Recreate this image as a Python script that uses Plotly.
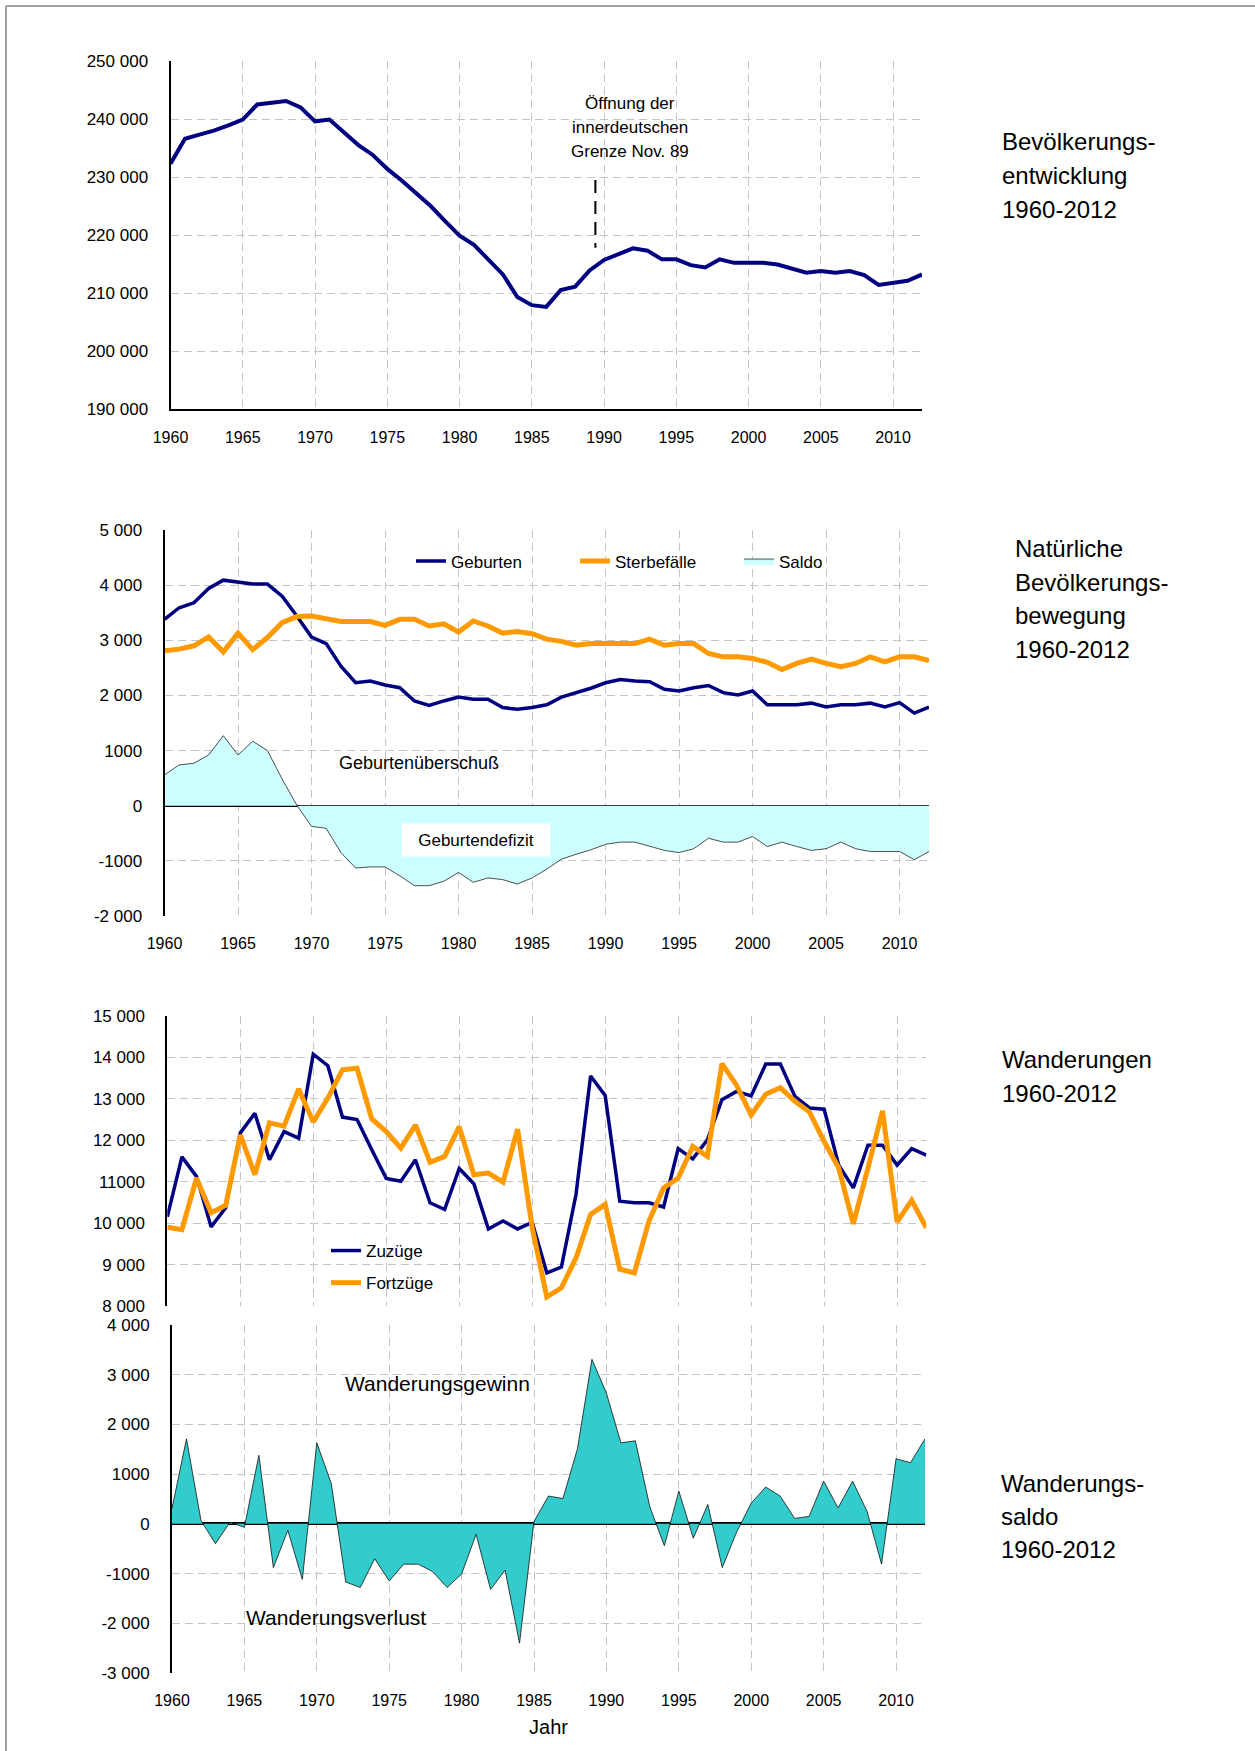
import plotly.graph_objects as go

W, H = 1255, 1751
FONT = "Liberation Sans, Arial, Helvetica, sans-serif"

# ---------------- data ----------------
years = list(range(1960, 2013))

bevoelkerung = [232300, 236600, 237300, 238000, 238900, 239900, 242500, 242800, 243100, 242000,
                239600, 239900, 237700, 235500, 233800, 231400, 229400, 227300, 225000, 222400,
                219900, 218300, 215800, 213200, 209300, 207900, 207600, 210500, 211100, 213900,
                215700, 216700, 217700, 217300, 215800, 215800, 214800, 214400, 215800, 215200,
                215200, 215200, 214900, 214200, 213500, 213800, 213500, 213800, 213100, 211400,
                211700, 212100, 213200]

geburten = [3380, 3590, 3680, 3940, 4090, 4060, 4020, 4020, 3800, 3440,
            3060, 2940, 2530, 2230, 2260, 2190, 2140, 1900, 1820, 1900,
            1970, 1930, 1930, 1780, 1750, 1780, 1830, 1970, 2050, 2130,
            2230, 2290, 2260, 2250, 2110, 2080, 2140, 2180, 2050, 2010,
            2080, 1830, 1830, 1830, 1860, 1790, 1830, 1830, 1860, 1790,
            1870, 1680, 1790]

sterbefaelle = [2810, 2840, 2900, 3060, 2790, 3130, 2830, 3050, 3320, 3430,
                3440, 3380, 3340, 3340, 3340, 3270, 3380, 3380, 3260, 3300,
                3150, 3350, 3260, 3130, 3160, 3120, 3020, 2980, 2910, 2940,
                2940, 2940, 2940, 3020, 2910, 2940, 2940, 2760, 2700, 2700,
                2670, 2600, 2470, 2580, 2660, 2580, 2520, 2580, 2700, 2610,
                2700, 2700, 2630]

saldo_natuerlich = [560, 740, 770, 920, 1270, 920, 1170, 1000, 485, 10,
                    -375, -410, -850, -1130, -1110, -1110, -1270, -1450, -1450, -1370,
                    -1210, -1390, -1310, -1340, -1420, -1310, -1150, -970, -880, -800,
                    -700, -660, -660, -740, -810, -850, -780, -590, -660, -660,
                    -560, -740, -660, -740, -810, -780, -660, -780, -830, -830,
                    -830, -980, -830]

zuzuege = [10150, 11600, 11130, 9910, 10370, 12180, 12650, 11530, 12210, 12050,
           14080, 13800, 12560, 12500, 11780, 11080, 11010, 11530, 10490, 10330,
           11320, 10950, 9860, 10050, 9860, 10020, 8800, 8940, 10690, 13550,
           13080, 10530, 10490, 10490, 10390, 11800, 11550, 12010, 12980, 13180,
           13070, 13840, 13840, 13060, 12780, 12750, 11400, 10850, 11880, 11880,
           11400, 11800, 11640]

fortzuege = [9900, 9840, 11090, 10250, 10430, 12130, 11170, 12420, 12340, 13240,
             12440, 13020, 13700, 13740, 12520, 12210, 11810, 12370, 11470, 11610,
             12330, 11170, 11210, 10990, 12270, 9890, 8220, 8440, 9160, 10210,
             10450, 8890, 8800, 10050, 10850, 11090, 11850, 11610, 13850, 13330,
             12610, 13110, 13270, 12940, 12680, 11970, 11330, 9980, 11330, 12710,
             10030, 10550, 9890]

saldo_wanderung = [310, 1710, 70, -400, 30, -70, 1380, -880, -130, -1120,
                   1630, 810, -1170, -1280, -700, -1150, -810, -810, -960, -1280,
                   -1010, -210, -1320, -930, -2400, 50, 560, 510, 1510, 3310,
                   2630, 1630, 1670, 340, -440, 660, -290, 390, -880, -160,
                   420, 740, 560, 110, 150, 860, 320, 860, 250, -810,
                   1310, 1230, 1710]

grenze_x = [1989.4, 1989.4]
grenze_y = [229500, 217800]

x_tickvals = [1960, 1965, 1970, 1975, 1980, 1985, 1990, 1995, 2000, 2005, 2010]
x_ticktext = ["1960", "1965", "1970", "1975", "1980", "1985", "1990", "1995", "2000", "2005", "2010"]

y1_tickvals = [190000, 200000, 210000, 220000, 230000, 240000, 250000]
y1_ticktext = ["190 000", "200 000", "210 000", "220 000", "230 000", "240 000", "250 000"]
y2_tickvals = [-2000, -1000, 0, 1000, 2000, 3000, 4000, 5000]
y2_ticktext = ["-2 000", "-1000", "0", "1000", "2 000", "3 000", "4 000", "5 000"]
y3_tickvals = [8000, 9000, 10000, 11000, 12000, 13000, 14000, 15000]
y3_ticktext = ["8 000", "9 000", "10 000", "11000", "12 000", "13 000", "14 000", "15 000"]
y4_tickvals = [-3000, -2000, -1000, 0, 1000, 2000, 3000, 4000]
y4_ticktext = ["-3 000", "-2 000", "-1000", "0", "1000", "2 000", "3 000", "4 000"]

titles = [
    ["Bevölkerungs-", "entwicklung", "1960-2012"],
    ["Natürliche", "Bevölkerungs-", "bewegung", "1960-2012"],
    ["Wanderungen", "1960-2012"],
    ["Wanderungs-", "saldo", "1960-2012"],
]

NAVY = "#000080"
ORANGE = "#FF9900"
GRID = "#C4C4C4"


def px_x(p):
    return p / W


def px_y(p):
    return 1 - p / H


fig = go.Figure()

# Panel 1
fig.add_trace(go.Scatter(x=years, y=bevoelkerung, mode="lines", line=dict(color=NAVY, width=4),
                         showlegend=False, xaxis="x", yaxis="y"))
fig.add_trace(go.Scatter(x=grenze_x, y=grenze_y, mode="lines",
                         line=dict(color="black", width=2, dash="13px,8px"),
                         showlegend=False, xaxis="x", yaxis="y"))

# Panel 2
fig.add_trace(go.Scatter(x=years, y=saldo_natuerlich, mode="lines", name="Saldo",
                         fill="tozeroy", fillcolor="#CCFFFF",
                         line=dict(color="#222222", width=0.8),
                         legend="legend", legendrank=3, xaxis="x2", yaxis="y2"))
fig.add_trace(go.Scatter(x=years, y=geburten, mode="lines", name="Geburten",
                         line=dict(color=NAVY, width=3.5),
                         legend="legend", legendrank=1, xaxis="x2", yaxis="y2"))
fig.add_trace(go.Scatter(x=years, y=sterbefaelle, mode="lines", name="Sterbefälle",
                         line=dict(color=ORANGE, width=5),
                         legend="legend", legendrank=2, xaxis="x2", yaxis="y2"))

# Panel 3
fig.add_trace(go.Scatter(x=years, y=zuzuege, mode="lines", name="Zuzüge",
                         line=dict(color=NAVY, width=3.5), legendgroup="z",
                         legend="legend2", legendrank=1, xaxis="x3", yaxis="y3"))
fig.add_trace(go.Scatter(x=years, y=fortzuege, mode="lines", name="Fortzüge",
                         line=dict(color=ORANGE, width=5), legendgroup="f",
                         legend="legend2", legendrank=2, xaxis="x3", yaxis="y3"))

# Panel 4
fig.add_trace(go.Scatter(x=years, y=saldo_wanderung, mode="lines", fill="tozeroy",
                         fillcolor="#33CCCC", line=dict(color="#111111", width=0.8),
                         showlegend=False, xaxis="x4", yaxis="y4"))


def xax(domain, showlabels=True, showline=False):
    return dict(domain=[px_x(domain[0]), px_x(domain[1])], range=[1960, 2012],
                tickvals=x_tickvals, ticktext=x_ticktext, showticklabels=showlabels,
                showgrid=True, gridcolor=GRID, gridwidth=1, griddash="8px,5px",
                zeroline=False, showline=showline, linecolor="black", linewidth=2,
                ticks="outside", ticklen=13, tickcolor="rgba(0,0,0,0)", automargin=False,
                tickfont=dict(size=16, family=FONT, color="black"), fixedrange=True)


def yax(domain, rng, tv, tt, zeroline=False, zw=1.5):
    return dict(domain=[px_y(domain[1]), px_y(domain[0])], range=rng,
                tickvals=tv, ticktext=tt,
                showgrid=True, gridcolor=GRID, gridwidth=1, griddash="8px,5px",
                zeroline=zeroline, zerolinecolor="black", zerolinewidth=zw,
                showline=True, linecolor="black", linewidth=2,
                ticks="outside", ticklen=17, tickcolor="rgba(0,0,0,0)", automargin=False,
                tickfont=dict(size=17, family=FONT, color="black"), fixedrange=True)


annotations = []

title_pos = [(1000, [141.5, 175.5, 209]),
             (1012.5, [548, 582.5, 615.5, 649.5]),
             (1000, [1059.5, 1093]),
             (999, [1483, 1516, 1549])]
for (xl, ys), lines in zip(title_pos, titles):
    for yy, t in zip(ys, lines):
        annotations.append(dict(xref="paper", yref="paper", x=px_x(xl), y=px_y(yy),
                                xanchor="left", yanchor="middle", text=t, showarrow=False,
                                font=dict(size=24, family=FONT, color="black")))

for yy, t in zip([103.5, 127.5, 151], ["Öffnung der", "innerdeutschen", "Grenze Nov. 89"]):
    annotations.append(dict(xref="paper", yref="paper", x=px_x(630), y=px_y(yy),
                            xanchor="center", yanchor="middle", text=t, showarrow=False,
                            font=dict(size=17, family=FONT, color="black")))

annotations.append(dict(xref="x2", yref="y2", x=1977.3, y=770, text="Geburtenüberschuß",
                        showarrow=False, xanchor="center", yanchor="middle",
                        font=dict(size=18, family=FONT, color="black")))
annotations.append(dict(xref="x2", yref="y2", x=1981.2, y=-620, text="Geburtendefizit",
                        showarrow=False, xanchor="center", yanchor="middle",
                        bgcolor="white", width=146, height=30,
                        font=dict(size=17, family=FONT, color="black")))

annotations.append(dict(xref="x4", yref="y4", x=1978.3, y=2820, text="Wanderungsgewinn",
                        showarrow=False, xanchor="center", yanchor="middle",
                        font=dict(size=21, family=FONT, color="black")))
annotations.append(dict(xref="x4", yref="y4", x=1971.3, y=-1890, text="Wanderungsverlust",
                        showarrow=False, xanchor="center", yanchor="middle",
                        font=dict(size=21, family=FONT, color="black")))

shapes = [
    dict(type="line", xref="paper", yref="paper", x0=px_x(6), x1=1, y0=px_y(6), y1=px_y(6),
         line=dict(color="#A0A0A0", width=2)),
    dict(type="line", xref="paper", yref="paper", x0=px_x(6), x1=px_x(6), y0=px_y(6), y1=0,
         line=dict(color="#A0A0A0", width=2)),
]

x4 = xax((172, 925))
x4["title"] = dict(text="Jahr", font=dict(size=20, family=FONT, color="black"), standoff=11)

fig.update_layout(
    width=W, height=H, autosize=False,
    margin=dict(l=0, r=0, t=0, b=0, pad=0, autoexpand=False),
    paper_bgcolor="white", plot_bgcolor="white",
    font=dict(family=FONT, color="black"),
    xaxis=dict(xax((170.5, 922), showline=True), anchor="y"),
    yaxis=dict(yax((61, 409), [190000, 250000], y1_tickvals, y1_ticktext), anchor="x"),
    xaxis2=dict(xax((164.5, 929)), anchor="y2"),
    yaxis2=dict(yax((530, 916), [-2000, 5000], y2_tickvals, y2_ticktext, zeroline=True, zw=1.5), anchor="x2"),
    xaxis3=dict(xax((167.3, 926.3), showlabels=False), anchor="y3"),
    yaxis3=dict(yax((1016, 1306), [8000, 15000], y3_tickvals, y3_ticktext), anchor="x3"),
    xaxis4=dict(x4, anchor="y4"),
    yaxis4=dict(yax((1325, 1673), [-3000, 4000], y4_tickvals, y4_ticktext, zeroline=True, zw=2.5), anchor="x4"),
    legend=dict(orientation="h", x=px_x(411), y=px_y(543.5), xanchor="left", yanchor="top",
                bgcolor="rgba(0,0,0,0)", font=dict(size=17, family=FONT, color="black"),
                entrywidth=119, entrywidthmode="pixels", traceorder="normal"),
    legend2=dict(orientation="v", x=px_x(326), y=px_y(1233), xanchor="left", yanchor="top",
                 bgcolor="rgba(0,0,0,0)", font=dict(size=17, family=FONT, color="black"),
                 tracegroupgap=7, traceorder="grouped"),
    annotations=annotations,
    shapes=shapes,
    showlegend=True,
)

fig.write_html("out.html", config={"displayModeBar": False, "responsive": False},
               post_script="document.body.style.margin='0';document.body.style.padding='0';document.documentElement.style.overflow='hidden';")
